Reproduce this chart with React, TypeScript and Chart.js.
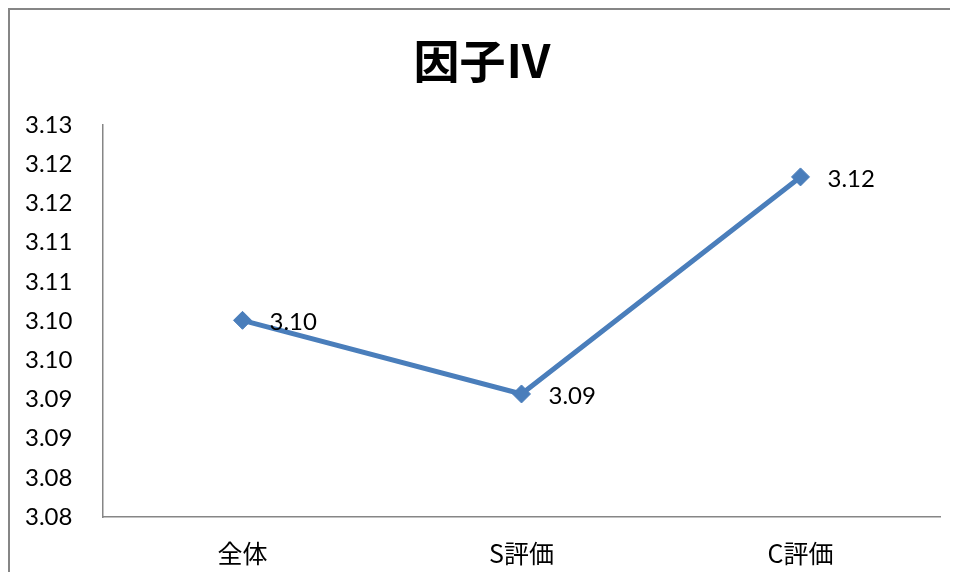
import React, { useEffect, useRef } from 'react';
import { Chart, registerables } from 'chart.js';

Chart.register(...registerables);

const chartTitle = '因子Ⅳ';
const categories = ['全体', 'S評価', 'C評価'];
const values = [3.1001, 3.0907, 3.1184];
const valueLabels = ['3.10', '3.09', '3.12'];
const yTickLabels = ['3.08', '3.08', '3.09', '3.09', '3.10', '3.10', '3.11', '3.11', '3.12', '3.12', '3.13'];
const yMin = 3.075;
const yMax = 3.125;
const yStep = 0.005;

const LINE_COLOR = '#4A7EBB';
const AXIS_COLOR = '#868686';
const NUM_FONT = 'Lato, "Noto Sans", sans-serif';
const CJK_FONT = '"Noto Sans CJK JP", "Noto Sans", sans-serif';

const framePlugin = {
  id: 'frame',
  afterDraw(chart: any) {
    const ctx = chart.ctx;
    ctx.save();
    ctx.strokeStyle = AXIS_COLOR;
    ctx.lineWidth = 2;
    ctx.beginPath();
    ctx.moveTo(1, chart.height);
    ctx.lineTo(1, 1);
    ctx.lineTo(chart.width, 1);
    ctx.stroke();
    ctx.restore();
  },
};

const valueLabelPlugin = {
  id: 'valueLabels',
  afterDatasetsDraw(chart: any) {
    const ctx = chart.ctx;
    const meta = chart.getDatasetMeta(0);
    ctx.save();
    ctx.fillStyle = '#000';
    ctx.font = `24px ${NUM_FONT}`;
    ctx.textAlign = 'left';
    ctx.textBaseline = 'middle';
    meta.data.forEach((pt: any, i: number) => {
      ctx.fillText(valueLabels[i], pt.x + 27, pt.y + 2);
    });
    ctx.restore();
  },
};

export default function App() {
  const ref = useRef<HTMLCanvasElement | null>(null);

  useEffect(() => {
    if (!ref.current) return;
    const chart = new Chart(ref.current, {
      type: 'line',
      data: {
        labels: categories,
        datasets: [
          {
            data: values,
            borderColor: LINE_COLOR,
            backgroundColor: LINE_COLOR,
            borderWidth: 5,
            pointStyle: 'rectRot',
            pointRadius: 9,
            pointBorderWidth: 1,
            pointBackgroundColor: LINE_COLOR,
            pointBorderColor: LINE_COLOR,
            tension: 0,
          },
        ],
      },
      options: {
        responsive: false,
        animation: false,
        layout: { padding: { left: 17, right: 28, top: 0, bottom: 9 } },
        plugins: {
          legend: { display: false },
          tooltip: { enabled: false },
          title: {
            display: true,
            text: chartTitle,
            color: '#000',
            font: { family: CJK_FONT, size: 46, weight: 'bold' },
            padding: { top: 25, bottom: 37 },
          },
        },
        scales: {
          x: {
            offset: true,
            grid: { display: false, drawTicks: false },
            border: { display: true, color: AXIS_COLOR, width: 1.5 },
            ticks: {
              color: '#000',
              font: { family: CJK_FONT, size: 25 },
              padding: 21,
              maxRotation: 0,
            },
          },
          y: {
            min: yMin,
            max: yMax,
            afterFit(scale: any) {
              scale.width = 78;
            },
            grid: { display: false, drawTicks: false },
            border: { display: true, color: AXIS_COLOR, width: 1.5 },
            ticks: {
              stepSize: yStep,
              autoSkip: false,
              crossAlign: 'far',
              color: '#000',
              font: { family: NUM_FONT, size: 24 },
              callback: (_v: any, i: number) => yTickLabels[i],
            },
          },
        },
      },
      plugins: [framePlugin, valueLabelPlugin],
    });
    return () => chart.destroy();
  }, []);

  return (
    <div style={{ width: 950, height: 572, marginBottom: -8, overflow: 'hidden' }}>
      <canvas ref={ref} width={960} height={590} style={{ display: 'block' }} />
    </div>
  );
}
